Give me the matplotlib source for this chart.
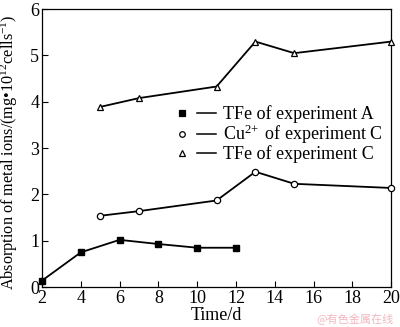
import matplotlib
matplotlib.use("Agg")
import matplotlib.pyplot as plt
from matplotlib.lines import Line2D
from matplotlib.legend_handler import HandlerTuple

plt.rcParams["font.family"] = ["Liberation Serif", "DejaVu Serif"]
plt.rcParams["mathtext.fontset"] = "custom"
plt.rcParams["mathtext.rm"] = "Liberation Serif"
plt.rcParams["mathtext.it"] = "Liberation Serif:italic"

# TFe of experiment A
days_a = [2, 4, 6, 8, 10, 12]
tfe_a = [0.14, 0.75, 1.02, 0.93, 0.85, 0.85]

# experiment C
days_c = [5, 7, 11, 13, 15, 20]
cu_c = [1.54, 1.64, 1.87, 2.49, 2.23, 2.14]
tfe_c = [3.89, 4.08, 4.33, 5.30, 5.05, 5.30]

labels = ["TFe of experiment A", "Cu$^{2\\!+}$ of experiment C", "TFe of experiment C"]

fig = plt.figure(figsize=(4.0, 3.27), dpi=100)
ax = fig.add_axes([0.105, 0.122, 0.873, 0.85])

ax.plot(days_a, tfe_a, "-", color="black", lw=1.3, marker="s", ms=4.5,
        mfc="black", mec="black", clip_on=False, zorder=3)
ax.plot(days_c, cu_c, "-", color="black", lw=1.3, marker="o", ms=4.5,
        mfc="white", mec="black", mew=0.9, clip_on=False, zorder=3)
ax.plot(days_c, tfe_c, "-", color="black", lw=1.3, marker="^", ms=4.5,
        mfc="white", mec="black", mew=0.9, clip_on=False, zorder=3)

ax.set_xlim(2, 20)
ax.set_ylim(0, 6)
ax.set_xticks(range(2, 21, 2))
ax.set_yticks(range(0, 7))
ax.tick_params(direction="in", length=4, width=0.8, labelsize=13, pad=2)
for s in ax.spines.values():
    s.set_linewidth(0.9)

ax.set_xlabel("Time/d", fontsize=13, labelpad=0)
ax.set_ylabel("Absorption of metal ions/(mg\u202210$^{12}$cells$^{-1}$)",
              fontsize=11.7, labelpad=0)
ax.yaxis.set_label_coords(-0.064, 0.485)

# legend: marker first, then a short dash, then text
markers = [("s", "black"), ("o", "white"), ("^", "white")]
handles = []
for m, fc in markers:
    mk = Line2D([], [], ls="none", marker=m, ms=4, mfc=fc, mec="black", mew=0.9)
    ln = Line2D([], [], color="black", lw=1.1)
    handles.append((mk, ln))
ax.legend(handles, labels, handler_map={tuple: HandlerTuple(ndivide=None, pad=0.3)},
          loc="center right", bbox_to_anchor=(1.0, 0.55), frameon=False,
          fontsize=13, handlelength=2.4, handletextpad=0.35, labelspacing=-0.05,
          borderaxespad=0.1)

fig.text(0.985, 0.005, "@有色金属在线", color="#f2b8c0", fontsize=8,
         ha="right", va="bottom", family=["Noto Sans CJK SC", "DejaVu Sans"])

fig.savefig("out.png", dpi=100)
